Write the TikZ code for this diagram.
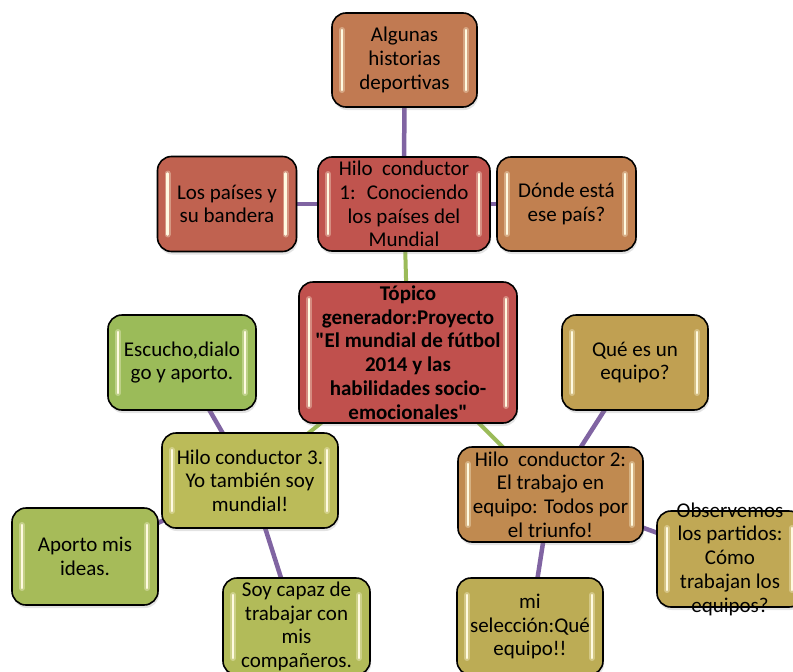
\documentclass[tikz,border=0pt]{standalone}
\usepackage{fontspec}
\setmainfont{Carlito}[Ligatures=TeXOff]
\usetikzlibrary{backgrounds,shadows}
\definecolor{cAlg}{RGB}{193,122,82}
\definecolor{cPai}{RGB}{192,98,80}
\definecolor{cHa}{RGB}{192,84,78}
\definecolor{cDon}{RGB}{193,128,80}
\definecolor{cCen}{RGB}{192,80,77}
\definecolor{cEsc}{RGB}{155,187,89}
\definecolor{cHc}{RGB}{187,187,89}
\definecolor{cApo}{RGB}{166,187,89}
\definecolor{cSoy}{RGB}{178,187,89}
\definecolor{cQue}{RGB}{192,160,82}
\definecolor{cHb}{RGB}{192,138,80}
\definecolor{cObs}{RGB}{192,168,85}
\definecolor{cMis}{RGB}{188,172,85}
\definecolor{cPur}{RGB}{128,100,162}
\definecolor{cGre}{RGB}{155,187,89}
\definecolor{cHl}{RGB}{255,250,225}
\tikzset{
  box/.style={draw=black, line width=1.6pt, rounded corners=14pt, inner sep=0pt,
    align=center, text=black, font=\fontsize{21}{23.7}\selectfont,
    drop shadow={opacity=0.22, shadow xshift=1pt, shadow yshift=-3pt},
    path picture={
      \draw[line width=6pt, cHl, opacity=0.35, line cap=round]
        ([xshift=10pt,yshift=-17pt]path picture bounding box.north west) --
        ([xshift=10pt,yshift=17pt]path picture bounding box.south west);
      \draw[line width=2.5pt, cHl, line cap=round]
        ([xshift=10pt,yshift=-17pt]path picture bounding box.north west) --
        ([xshift=10pt,yshift=17pt]path picture bounding box.south west);
      \draw[line width=6pt, cHl, opacity=0.35, line cap=round]
        ([xshift=-11pt,yshift=-17pt]path picture bounding box.north east) --
        ([xshift=-11pt,yshift=17pt]path picture bounding box.south east);
      \draw[line width=2.5pt, cHl, line cap=round]
        ([xshift=-11pt,yshift=-17pt]path picture bounding box.north east) --
        ([xshift=-11pt,yshift=17pt]path picture bounding box.south east);
    }},
  txt/.style={inner sep=0pt, align=center, text=black, font=\fontsize{21}{23.7}\selectfont},
  purline/.style={draw=cPur, line width=4.5pt},
  greline/.style={draw=cGre, line width=4pt}
}
\begin{document}
\begin{tikzpicture}[x=1pt,y=-1pt]
\useasboundingbox (0,0) rectangle (793,672);
\node[box, fill=cAlg, minimum width=145pt, minimum height=94pt] (alg) at (404.5,60) {Algunas\\historias\\deportivas};
\node[box, fill=cPai, minimum width=139pt, minimum height=95pt] (pai) at (227,204) {Los países y\\su bandera};
\node[box, fill=cHa, minimum width=172pt, minimum height=94pt] (ha) at (404,204) {Hilo~ conductor\\1:~ Conociendo\\los países del\\Mundial};
\node[box, fill=cDon, minimum width=139pt, minimum height=94pt] (don) at (566.5,204) {Dónde está\\ese país?};
\node[box, fill=cCen, minimum width=218pt, minimum height=141pt, font=\fontsize{21}{23.7}\selectfont\bfseries] (cen) at (408,352.5) {Tópico\\generador:Proyecto\\"El mundial de fútbol\\2014 y las\\habilidades socio-\\emocionales"};
\node[box, fill=cEsc, minimum width=148pt, minimum height=95pt] (esc) at (182,362.5) {Escucho,dialo\\go y aporto.};
\node[box, fill=cHc, minimum width=176pt, minimum height=95pt] (hc) at (250,480.5) {Hilo conductor 3.\\Yo también soy\\mundial!};
\node[box, fill=cApo, minimum width=146pt, minimum height=97pt] (apo) at (85,556.5) {Aporto mis\\ideas.};
\node[box, fill=cSoy, minimum width=147pt, minimum height=97pt] (soy) at (296.5,626.5) {Soy capaz de\\trabajar con\\mis\\compañeros.};
\node[box, fill=cQue, minimum width=146pt, minimum height=95pt] (que) at (635,362.5) {Qué es un\\equipo?};
\node[box, fill=cHb, minimum width=185pt, minimum height=95pt] (hb) at (550.5,494.5) {Hilo~ conductor 2:\\El trabajo en\\equipo: Todos por\\el triunfo!};
\node[box, fill=cObs, minimum width=146pt, minimum height=96pt] (obs) at (730,559) {};
\node[txt] (obst) at (obs.center) {Observemos\\los partidos:\\Cómo\\trabajan los\\equipos?};
\node[box, fill=cMis, minimum width=146pt, minimum height=97pt] (mis) at (530,626.5) {mi\\selección:Qué\\equipo!!};
\begin{scope}[on background layer]
\draw[purline] (alg.center) -- (ha.center);
\draw[purline] (pai.center) -- (ha.center);
\draw[purline] (don.center) -- (ha.center);
\draw[greline] (cen.center) -- (ha.center);
\draw[greline] (cen.center) -- (hc.center);
\draw[greline] (cen.center) -- (hb.center);
\draw[purline] (esc.center) -- (hc.center);
\draw[purline] (apo.center) -- (hc.center);
\draw[purline] (soy.center) -- (hc.center);
\draw[purline] (que.center) -- (hb.center);
\draw[purline] (obs.center) -- (hb.center);
\draw[purline] (mis.center) -- (hb.center);
\end{scope}
\end{tikzpicture}
\end{document}
